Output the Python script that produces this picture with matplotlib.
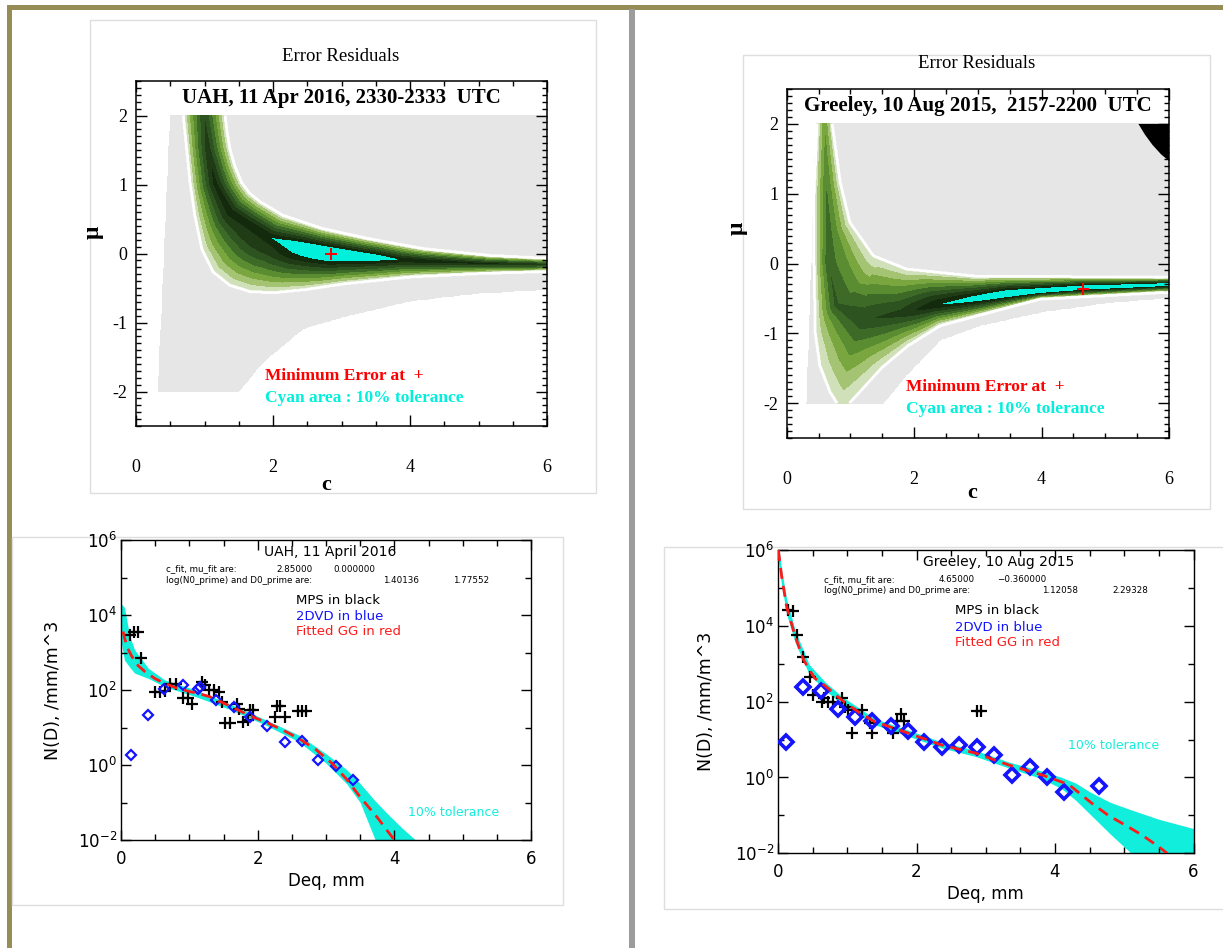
import numpy as np
import matplotlib
matplotlib.use('Agg')
import matplotlib.pyplot as plt
from matplotlib.patches import Rectangle
from matplotlib.path import Path
from matplotlib.ticker import MultipleLocator, FixedLocator, NullFormatter

plt.rcParams['axes.unicode_minus'] = False

W, H = 1223, 948
SERIF = 'Liberation Serif'
SANS = 'DejaVu Sans'

# ---------------- top panels: error residual maps (c, mu) ----------------
# ridge of minimum error and the error level along it (below 1 = cyan, 9 = edge)
tl_ridge_c = [1.00, 1.00, 1.05, 1.16, 1.38, 1.96, 2.10, 2.30, 2.60, 2.85, 3.50, 3.88, 5.00, 6.00, 6.50]
tl_ridge_mu = [3.00, 2.00, 1.50, 1.00, 0.60, 0.23, 0.18, 0.12, 0.06, 0.01, -0.05, -0.09, -0.14, -0.16, -0.16]
tl_floor = [3.0, 3.0, 2.3, 1.5, 1.3, 1.0, 0.5, -0.3, -0.9, -1.2, -0.2, 1.0, 1.5, 2.0, 2.0]
# outer (white) contour of the green area
tl_edge_c = [0.69, 0.74, 0.79, 0.86, 0.96, 1.13, 1.37, 1.66, 2.00, 2.49, 3.03, 4.00,
             5.00, 6.00, 6.50, 6.50, 6.00, 5.17, 4.19, 3.37, 2.73, 2.15, 1.81, 1.65,
             1.54, 1.44, 1.37, 1.33, 1.30, 1.30, 0.69]
tl_edge_mu = [2.00, 1.52, 1.03, 0.55, 0.07, -0.27, -0.46, -0.55, -0.57, -0.52, -0.44, -0.34,
              -0.29, -0.26, -0.26, -0.06, -0.07, -0.03, 0.07, 0.22, 0.36, 0.55, 0.75, 0.88,
              1.03, 1.27, 1.52, 1.75, 2.00, 3.00, 3.00]
# limits of the computed (grey) domain
tl_left_mu = [-2.0, 2.0]
tl_left_c = [0.32, 0.50]
tl_low_c = [1.50, 1.86, 2.44, 3.03, 4.00, 5.00, 6.00]
tl_low_mu = [-2.00, -1.57, -1.09, -0.92, -0.69, -0.58, -0.52]
tl_min = (2.85, 0.0)

tr_ridge_c = [0.60, 0.60, 0.63, 0.66, 0.78, 1.20, 1.80, 2.30, 3.46, 4.65, 6.00, 6.50]
tr_ridge_mu = [3.00, 2.00, 1.00, 0.00, -0.60, -0.80, -0.72, -0.60, -0.44, -0.35, -0.30, -0.30]
tr_floor = [6.3, 6.0, 4.8, 4.0, 3.6, 3.2, 2.5, 1.1, -0.9, -1.0, -0.9, -0.9]
tr_edge_c = [0.48, 0.48, 0.43, 0.43, 0.45, 0.52, 0.68, 0.79, 0.89, 0.99, 1.47, 1.90,
             2.41, 3.98, 6.00, 6.50, 6.50, 6.00, 2.93, 1.88, 1.36, 0.99, 0.84, 0.71, 0.71]
tr_edge_mu = [3.00, 2.02, 1.00, -0.03, -1.00, -1.46, -1.84, -2.00, -2.20, -2.00, -1.51, -1.18,
              -0.89, -0.51, -0.41, -0.41, -0.20, -0.20, -0.18, -0.08, 0.11, 0.59, 1.16, 2.02, 3.00]
tr_left_mu = [-2.0, 0.0, 1.0, 2.0]
tr_left_c = [0.31, 0.39, 0.42, 0.46]
tr_low_c = [1.52, 1.88, 2.41, 3.00, 3.98, 5.00, 6.00]
tr_low_mu = [-2.00, -1.60, -1.10, -0.90, -0.70, -0.57, -0.49]
tr_black_c = [5.52, 6.00, 6.00, 5.88, 5.74, 5.62]
tr_black_mu = [2.00, 2.00, 1.47, 1.56, 1.70, 1.85]
tr_min = (4.65, -0.36)

band_colors = ['#00f0dc', '#132a0c', '#1f3c16', '#2d5420', '#3e6a28',
               '#5a8c32', '#7aa640', '#a4c474', '#d0e0b8', '#e6e6e6']
band_levels = [-100, 1, 2, 3, 4, 5, 6, 7, 8, 9, 1e6]

# ---------------- bottom panels: N(D) ----------------
bl_fit_d = [0.03, 0.05, 0.10, 0.16, 0.25, 0.35, 0.50, 0.64, 0.80, 1.00, 1.13, 1.30,
            1.62, 1.90, 2.11, 2.35, 2.60, 2.85, 3.09, 3.30, 3.50, 3.75, 4.00]
bl_fit_n = [3630, 2510, 1260, 776, 447, 309, 200, 151, 115, 91, 81, 66,
            35.5, 20, 14.1, 8.9, 5.1, 2.6, 1.1, 0.42, 0.14, 0.04, 0.01]
bl_tol_d = [0.0, 0.05, 0.13, 0.20, 0.40, 0.64, 1.13, 1.60, 2.10, 2.60, 3.00, 3.30,
            3.50, 3.72, 3.90, 4.10, 4.31]
bl_tol_lo = [2000, 630, 400, 282, 204, 123, 63, 30, 12, 4.2, 1.12, 0.32,
             0.1, 0.01, 0.003, 0.003, 0.003]
bl_tol_hi = [2.0e4, 1.6e4, 2630, 1175, 380, 186, 95, 42, 16.6, 6.3, 2.0, 0.76,
             0.32, 0.11, 0.05, 0.022, 0.01]
bl_mps_d = [0.13, 0.196, 0.254, 0.293, 0.498, 0.572, 0.645, 0.718, 0.80, 0.914,
            0.977, 1.046, 1.192, 1.23, 1.29, 1.364, 1.437, 1.476, 1.525, 1.598,
            1.696, 1.73, 1.79, 1.857, 1.89, 1.93, 2.248, 2.29, 2.33, 2.405,
            2.59, 2.65, 2.71]
bl_mps_n = [2950, 3470, 3470, 725, 90, 90, 95, 145, 145, 60,
            60, 43, 166, 135, 100, 100, 90, 49, 13.5, 13.5,
            43, 31, 14, 16, 29, 29, 18.6, 37, 37, 19.5,
            27.5, 27.5, 27.5]
bl_dvd_d = [0.142, 0.39, 0.635, 0.90, 1.13, 1.16, 1.39, 1.66, 1.89, 2.13,
            2.40, 2.65, 2.88, 3.14, 3.39]
bl_dvd_n = [1.9, 22, 104, 140, 104, 120, 54, 35, 19.5, 11,
            4.0, 4.4, 1.4, 0.95, 0.4]

br_fit_d = [0.005, 0.053, 0.125, 0.25, 0.37, 0.45, 0.53, 0.68, 0.92, 1.19, 1.40, 1.88,
            2.36, 2.85, 3.33, 3.81, 4.20, 4.53, 4.77, 5.01, 5.26, 5.50, 5.62]
br_fit_n = [1e6, 2.0e5, 3.16e4, 5130, 1260, 708, 417, 263, 110, 49, 29.5, 14.8,
            7.2, 4.4, 2.14, 1.17, 0.65, 0.21, 0.10, 0.056, 0.030, 0.0148, 0.01]
br_tol_d = [0.0, 0.05, 0.125, 0.25, 0.45, 0.68, 0.92, 1.40, 1.88, 2.36, 2.85, 3.33,
            3.81, 4.10, 4.30, 4.50, 4.80, 5.10, 5.50, 6.00]
br_tol_lo = [6.3e5, 1.26e5, 2.0e4, 3550, 525, 200, 87, 24.5, 12.3, 6.0, 3.6, 1.78,
             0.93, 0.5, 0.25, 0.11, 0.032, 0.01, 0.0025, 0.0025]
br_tol_hi = [2.0e6, 3.16e5, 5.0e4, 7400, 955, 331, 138, 35.5, 17.8, 8.7, 5.2, 2.57,
             1.48, 1.0, 0.71, 0.42, 0.22, 0.14, 0.079, 0.045]
br_mps_d = [0.149, 0.22, 0.27, 0.366, 0.46, 0.51, 0.631, 0.67, 0.727, 0.80,
            0.92, 0.968, 1.016, 1.064, 1.219, 1.33, 1.363, 1.666, 1.715, 1.772,
            1.825, 2.87, 2.93]
br_mps_n = [2.63e4, 2.51e4, 5750, 1550, 457, 151, 100, 123, 100, 100,
            123, 74, 60, 15, 60, 27, 15, 15, 30, 47,
            31, 58, 58]
br_dvd_d = [0.116, 0.366, 0.617, 0.872, 1.112, 1.353, 1.628, 1.883, 2.11, 2.365,
            2.615, 2.87, 3.125, 3.377, 3.632, 3.88, 4.13, 4.63]
br_dvd_n = [8.5, 240, 190, 64, 39, 30, 23, 17, 8.8, 6.5,
            7.2, 6.5, 3.9, 1.16, 1.9, 1.05, 0.41, 0.58]


def rect(left, top, right, bottom):
    return [left / W, 1 - bottom / H, (right - left) / W, (bottom - top) / H]


def polyline_dist(p, pts):
    # distance of every point to a polyline and arc length of the nearest point
    seg = pts[1:] - pts[:-1]
    seg_len = np.hypot(seg[:, 0], seg[:, 1])
    s0 = np.concatenate([[0], np.cumsum(seg_len)])
    best_d = np.full(len(p), np.inf)
    best_s = np.zeros(len(p))
    for i in range(len(seg)):
        rel = p - pts[i]
        t = np.clip((rel @ seg[i]) / seg_len[i] ** 2, 0, 1)
        d = np.hypot(rel[:, 0] - t * seg[i, 0], rel[:, 1] - t * seg[i, 1])
        better = d < best_d
        best_d[better] = d[better]
        best_s[better] = s0[i] + t[better] * seg_len[i]
    return best_d, best_s, s0


def residual_field(cc, mm, ridge_c, ridge_mu, floor, edge_c, edge_mu, power=1.2):
    p = np.column_stack([cc.ravel(), mm.ravel()])
    ridge = np.column_stack([ridge_c, ridge_mu])
    edge = np.column_stack([edge_c, edge_mu])
    d_r, s, s0 = polyline_dist(p, ridge)
    d_b, _, _ = polyline_dist(p, np.vstack([edge, edge[:1]]))
    inside = Path(edge).contains_points(p)
    t = d_r / (d_r + d_b + 1e-9)
    g = np.interp(s, s0, floor)
    f = g + (9 - g) * t ** power
    f[~inside] = 10
    return f.reshape(cc.shape)


def residual_panel(box, ridge, edge, left_edge, low_edge, min_pt, title, black=None,
                   mu_pos=(-0.105, 0.56), c_pos=(0.46, -0.17)):
    ax = fig.add_axes(rect(*box))
    cgrid = np.linspace(0, 6, 601)
    mgrid = np.linspace(-2.5, 2.5, 501)
    cc, mm = np.meshgrid(cgrid, mgrid)
    f = residual_field(cc, mm, *ridge, *edge)
    valid = ((mm >= -2) & (mm <= 2)
             & (cc >= np.interp(mm, left_edge[1], left_edge[0]))
             & (mm >= np.interp(cc, low_edge[0], low_edge[1])))
    f = np.where(valid, f, np.nan)
    ax.contourf(cc, mm, f, levels=band_levels, colors=band_colors)
    ax.contour(cc, mm, f, levels=[9.5], colors='white', linewidths=2.0)
    if black is not None:
        ax.fill(black[0], black[1], color='black', lw=0)
    ax.plot(*min_pt, '+', color='red', ms=8, mew=1.4)

    ax.set_xlim(0, 6)
    ax.set_ylim(-2.5, 2.5)
    ax.set_xticks([0, 2, 4, 6])
    ax.set_yticks([-2, -1, 0, 1, 2])
    ax.xaxis.set_minor_locator(MultipleLocator(0.5))
    ax.yaxis.set_minor_locator(MultipleLocator(0.1))
    ax.tick_params(which='both', direction='in', top=True, right=True, width=1)
    ax.tick_params(which='major', length=8)
    ax.tick_params(which='minor', length=3.5)
    ax.tick_params(axis='x', which='major', pad=24)
    ax.tick_params(axis='y', which='major', pad=6)
    for lab in ax.get_xticklabels() + ax.get_yticklabels():
        lab.set_fontfamily(SERIF)
        lab.set_fontsize(13)
    for sp in ax.spines.values():
        sp.set_linewidth(1.1)

    ax.text(0.497, 1.072, 'Error Residuals', transform=ax.transAxes, ha='center',
            va='center', fontsize=13.5, family=SERIF)
    ax.text(3.0, 2.25, title, ha='center', va='center', fontsize=15,
            fontweight='bold', family=SERIF)
    ax.text(1.88, -1.77, 'Minimum Error at  +', color='red', fontsize=12.5,
            fontweight='bold', family=SERIF, va='center')
    ax.text(1.88, -2.09, 'Cyan area : 10% tolerance', color='#00f0dc', fontsize=12.5,
            fontweight='bold', family=SERIF, va='center')
    ax.text(*c_pos, 'c', transform=ax.transAxes, ha='center', va='center',
            fontsize=16, fontweight='bold', family=SERIF)
    ax.text(*mu_pos, 'μ', transform=ax.transAxes, ha='center', va='center',
            fontsize=17, fontweight='bold', family=SERIF, rotation=90)
    return ax


def nd_panel(box, fit, tol, mps, dvd, head, fit_vals, dvd_ms, dvd_mew,
             tol_pos, label_x, deq_y):
    ax = fig.add_axes(rect(*box))
    ax.set_yscale('log')
    ax.fill_between(tol[0], tol[1], tol[2], color='#12eedc', lw=0, zorder=1)
    ax.plot(mps[0], mps[1], '+', color='black', ms=8, mew=1.6, zorder=3)
    ax.plot(dvd[0], dvd[1], 'D', mfc='none', mec='#1414ff', ms=dvd_ms, mew=dvd_mew, zorder=3)
    ax.plot(fit[0], fit[1], color='#ff1a1a', lw=2, dashes=(4, 2.5), zorder=4)

    ax.set_xlim(0, 6)
    ax.set_ylim(1e-2, 1e6)
    ax.set_xticks([0, 2, 4, 6])
    ax.xaxis.set_minor_locator(MultipleLocator(0.5))
    ax.yaxis.set_major_locator(FixedLocator([1e-2, 1e0, 1e2, 1e4, 1e6]))
    ax.yaxis.set_minor_locator(FixedLocator([1e-1, 1e1, 1e3, 1e5]))
    ax.yaxis.set_minor_formatter(NullFormatter())
    ax.tick_params(which='both', direction='in', top=True, right=True, width=1)
    ax.tick_params(which='major', length=7, labelsize=12)
    ax.tick_params(axis='x', which='major', pad=7)
    ax.tick_params(axis='y', which='major', pad=3)
    ax.tick_params(which='minor', length=4)
    for sp in ax.spines.values():
        sp.set_linewidth(1.0)

    ax.text(*tol_pos, '10% tolerance', transform=ax.transAxes, color='#12eedc',
            fontsize=9, family=SANS, va='center')
    ax.text(head[1], 0.96, head[0], transform=ax.transAxes, ha='center',
            va='center', fontsize=10, family=SANS)
    ax.text(0.11, 0.903, 'c_fit, mu_fit are:', transform=ax.transAxes,
            fontsize=6.3, family=SANS, va='center')
    ax.text(0.11, 0.865, 'log(N0_prime) and D0_prime are:', transform=ax.transAxes,
            fontsize=6.3, family=SANS, va='center')
    for x, y, s in fit_vals:
        ax.text(x, y, s, transform=ax.transAxes, fontsize=6.3, family=SANS, va='center')
    ax.text(0.427, 0.8, 'MPS in black', transform=ax.transAxes, fontsize=9.5,
            family=SANS, va='center', color='black')
    ax.text(0.427, 0.746, '2DVD in blue', transform=ax.transAxes, fontsize=9.5,
            family=SANS, va='center', color='#1414ff')
    ax.text(0.427, 0.696, 'Fitted GG in red', transform=ax.transAxes, fontsize=9.5,
            family=SANS, va='center', color='#ff1a1a')
    ax.text(0.5, deq_y, 'Deq, mm', transform=ax.transAxes, ha='center', va='center',
            fontsize=12, family=SANS)
    ax.text(label_x, 0.5, 'N(D), /mm/m^3', transform=ax.transAxes, ha='center',
            va='center', fontsize=12.5, family=SANS, rotation=90)
    return ax


fig = plt.figure(figsize=(W / 100, H / 100), dpi=100)

# page decorations (pixel coordinates)
bg = fig.add_axes([0, 0, 1, 1], zorder=-5)
bg.set_xlim(0, W)
bg.set_ylim(H, 0)
bg.axis('off')
bg.add_patch(Rectangle((7, 5), W - 7, 4.5, color='#968c55', lw=0))
bg.add_patch(Rectangle((7, 5), 5.3, H - 5, color='#968c55', lw=0))
bg.add_patch(Rectangle((628.5, 9), 6.5, H - 9, color='#9c9c9c', lw=0))
for x0, y0, x1, y1 in [(90, 20, 596, 493), (743, 55, 1210, 509),
                       (12, 537, 563, 905), (664, 547, 1230, 909)]:
    bg.add_patch(Rectangle((x0, y0), x1 - x0, y1 - y0, fill=False,
                           ec='#dedede', lw=1))

residual_panel((136, 81, 547, 426),
               (tl_ridge_c, tl_ridge_mu, tl_floor), (tl_edge_c, tl_edge_mu),
               (tl_left_c, tl_left_mu), (tl_low_c, tl_low_mu), tl_min,
               'UAH, 11 Apr 2016, 2330-2333  UTC',
               mu_pos=(-0.105, 0.56), c_pos=(0.462, -0.171))
residual_panel((786.7, 89, 1169, 438),
               (tr_ridge_c, tr_ridge_mu, tr_floor), (tr_edge_c, tr_edge_mu),
               (tr_left_c, tr_left_mu), (tr_low_c, tr_low_mu), tr_min,
               'Greeley, 10 Aug 2015,  2157-2200  UTC',
               black=(tr_black_c, tr_black_mu),
               mu_pos=(-0.13, 0.6), c_pos=(0.485, -0.158))

nd_panel((121, 540, 531, 840), (bl_fit_d, bl_fit_n), (bl_tol_d, bl_tol_lo, bl_tol_hi),
         (bl_mps_d, bl_mps_n), (bl_dvd_d, bl_dvd_n), ('UAH, 11 April 2016', 0.51),
         [(0.38, 0.903, '2.85000'), (0.517, 0.903, '0.000000'),
          (0.639, 0.865, '1.40136'), (0.81, 0.865, '1.77552')],
         5, 1.6, (0.70, 0.09), -0.166, -0.137)
nd_panel((778, 550, 1193.5, 853.3), (br_fit_d, br_fit_n), (br_tol_d, br_tol_lo, br_tol_hi),
         (br_mps_d, br_mps_n), (br_dvd_d, br_dvd_n), ('Greeley, 10 Aug 2015', 0.53),
         [(0.387, 0.903, '4.65000'), (0.527, 0.903, '\u22120.360000'),
          (0.635, 0.865, '1.12058'), (0.804, 0.865, '2.29328')],
         7, 2.6, (0.698, 0.354), -0.173, -0.133)

fig.savefig('out.png', dpi=100)
